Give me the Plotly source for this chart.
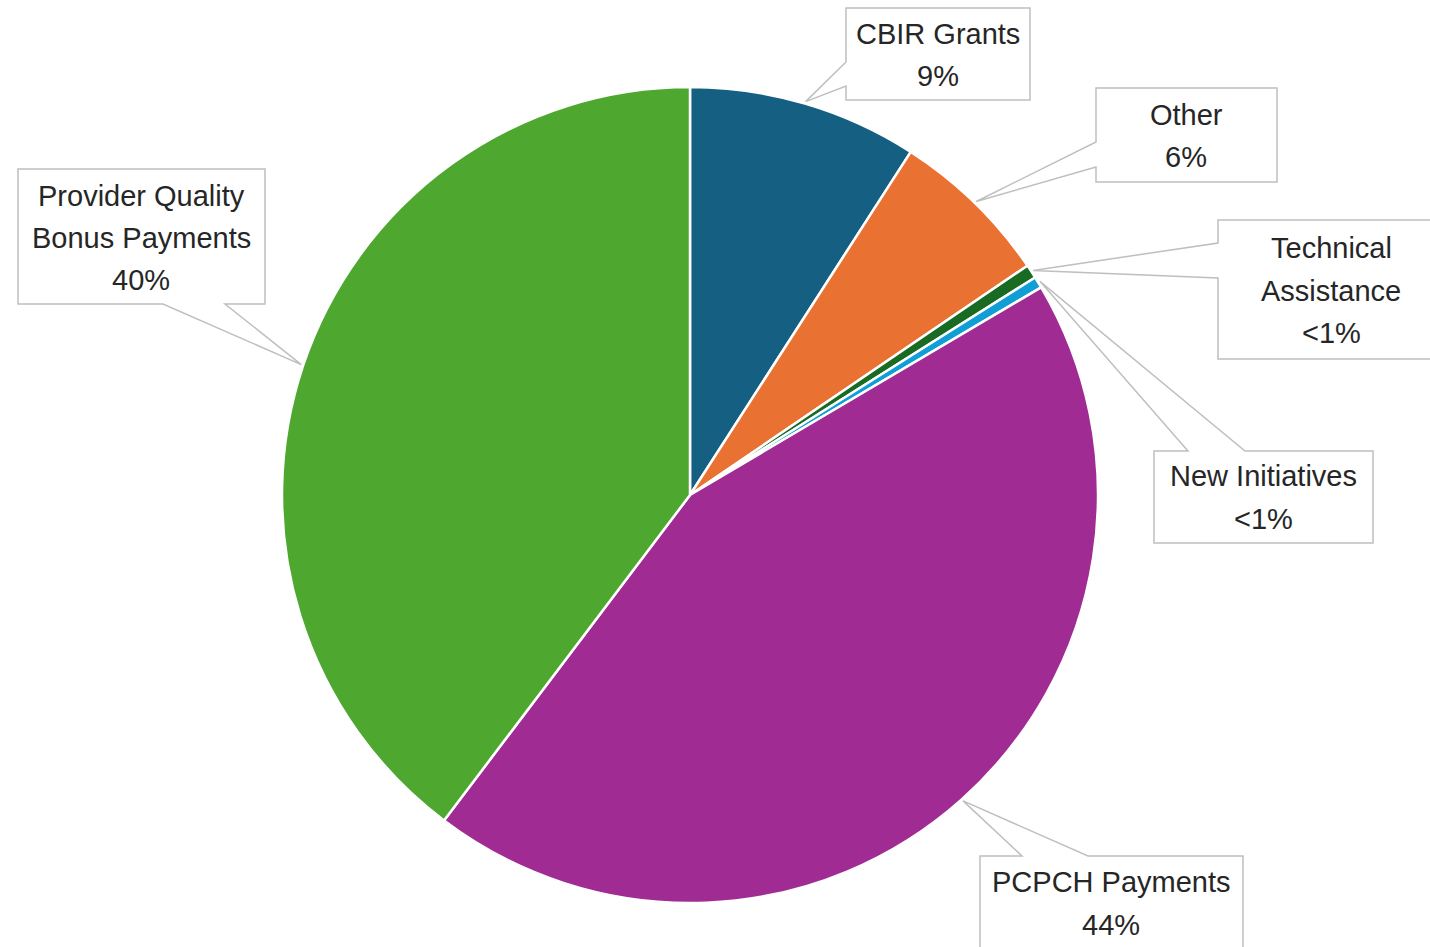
import math
import plotly.graph_objects as go

# ---- data ----
categories = ["CBIR Grants", "Other", "Technical Assistance", "New Initiatives",
              "PCPCH Payments", "Provider Quality Bonus Payments"]
values = [9.1, 6.4, 0.55, 0.45, 43.8, 39.7]
colors = ["#156082", "#E97132", "#196B24", "#0F9ED5", "#A02B93", "#4EA72E"]
# label lines as displayed in callouts
label_lines = [["CBIR Grants"], ["Other"], ["Technical", "Assistance"], ["New Initiatives"],
               ["PCPCH Payments"], ["Provider Quality", "Bonus Payments"]]

W, H = 1430, 947
CX, CY, R = 690, 495, 408


def pct_text(v):
    return "<1%" if v < 1 else f"{round(v)}%"


def px(x):
    return x / W


def py(y):
    return 1 - y / H


fig = go.Figure(go.Pie(
    labels=categories, values=values, sort=False, direction="clockwise", rotation=0,
    marker=dict(colors=colors, line=dict(color="white", width=2.5)),
    textinfo="none", hoverinfo="label+percent", showlegend=False,
    domain=dict(x=[px(CX - R), px(CX + R)], y=[py(CY + R), py(CY - R)]),
))

# callout layout: box (left, top, right, bottom), wedge side and base points, text center x, line centers y
callouts = [
    dict(box=(846, 8, 1030, 100), side="left", base=(62, 86), tx=938, ty=[34, 76]),
    dict(box=(1096, 88, 1277, 182), side="left", base=(142, 167), tx=1186, ty=[115, 157]),
    dict(box=(1218, 220, 1434, 359), side="left", base=(243, 278), tx=1331, ty=[248, 291, 333]),
    dict(box=(1154, 451, 1373, 543), side="top", base=(1188, 1245), tx=1263, ty=[476, 519]),
    dict(box=(980, 856, 1243, 952), side="top", base=(1022, 1088), tx=1111, ty=[882, 925]),
    dict(box=(18, 169, 265, 304), side="bottom", base=(163, 225), tx=141, ty=[196, 238, 280]),
]

total = sum(values)
cum = 0.0
shapes = []
annotations = []
for i, v in enumerate(values):
    mid = (cum + v / 2) / total * 2 * math.pi
    cum += v
    tipx = CX + (R + 2) * math.sin(mid)
    tipy = CY - (R + 2) * math.cos(mid)
    c = callouts[i]
    l, t, r, b = c["box"]
    b1, b2 = c["base"]
    if c["side"] == "left":
        pts = [(l, t), (r, t), (r, b), (l, b), (l, b2), (tipx, tipy), (l, b1)]
    elif c["side"] == "top":
        pts = [(l, t), (b1, t), (tipx, tipy), (b2, t), (r, t), (r, b), (l, b)]
    else:  # bottom
        pts = [(l, t), (r, t), (r, b), (b2, b), (tipx, tipy), (b1, b), (l, b)]
    path = "M " + " L ".join(f"{px(x):.5f},{py(y):.5f}" for x, y in pts) + " Z"
    shapes.append(dict(type="path", path=path, xref="paper", yref="paper",
                       fillcolor="white", line=dict(color="#BFBFBF", width=1.5)))
    lines = label_lines[i] + [pct_text(v)]
    for txt, yy in zip(lines, c["ty"]):
        annotations.append(dict(text=txt, x=px(c["tx"]), y=py(yy), xref="paper", yref="paper",
                                xanchor="center", yanchor="middle", showarrow=False,
                                font=dict(family="Liberation Sans", size=29, color="#262626")))

fig.update_layout(
    width=W, height=H, margin=dict(l=0, r=0, t=0, b=0),
    paper_bgcolor="white", plot_bgcolor="white",
    shapes=shapes, annotations=annotations,
)

fig.write_html("out.html", config={"displayModeBar": False},
               post_script="document.body.style.margin='0';document.body.style.overflow='hidden';")
